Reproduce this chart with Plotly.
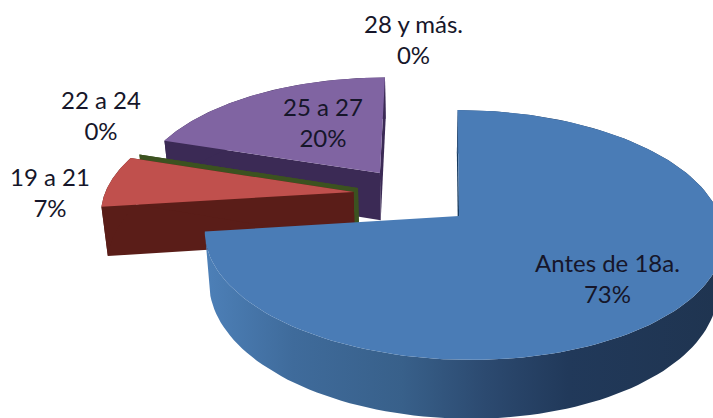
import numpy as np
import plotly.graph_objects as go

# Data
categories = ["Antes de 18a.", "19 a 21", "22 a 24", "25 a 27", "28 y más."]
values = [73, 7, 0, 20, 0]

# Styles and slice pull (ground-plane units)
top_colors = ["#4a7cb6", "#c0504d", "#4f6b2a", "#8064a2", "#4bacc6"]
wall_colors = ["#2c4a70", "#5a1d18", "#3c5220", "#3b2a55", "#2a6a7a"]
pull_u = [0.155, -0.272, -0.255, -0.168, -0.168]
pull_v = [0.0, 0.203, 0.237, 0.372, 0.372]
rim_u = [0.172, -0.272, -0.255, -0.168, -0.168]
rim_r = [1.0176, 1.015, 1.0, 1.0, 1.0]
label_xy = [(607, 278), (50, 192), (101, 115), (323, 122), (413, 39)]
blue_wall_scale = [
    [0.0, "#4d80b8"], [0.17, "#3f6b9b"], [0.38, "#38608a"],
    [0.54, "#2c4a70"], [0.70, "#21395a"], [1.0, "#1f3450"],
]

# Projection constants
X0, Y0, RX, RY, K = 420.0, 216.0, 252.0, 122.0, 0.152
DEPTH, SHRINK = 50.0, 0.02


def project(u, v, low=False):
    s = 1.0 / (1.0 + K * v)
    x = RX * u * s
    y = Y0 - RY * v * s
    if low:
        return X0 + x * (1 - SHRINK), y + DEPTH * s
    return X0 + x, y


def arc(i, a0, a1, low=False):
    t = np.radians(np.linspace(a0, a1, 140))
    return project(rim_u[i] + rim_r[i] * np.sin(t), pull_v[i] + np.cos(t), low)


def poly(xs, ys, color, **kw):
    return go.Scatter(
        x=list(xs), y=list(ys), mode="lines", fill="toself", fillcolor=color,
        line=dict(width=0, color=color), hoverinfo="skip", showlegend=False, **kw
    )


fig = go.Figure()

total = sum(values)
ends = np.cumsum(values) / total * 360.0
starts = np.concatenate([[0.0], ends[:-1]])

for i in [3, 2, 1, 0]:
    a0, a1 = starts[i], ends[i]
    apex = project(np.array([pull_u[i]]), np.array([pull_v[i]]))
    apex_low = project(np.array([pull_u[i]]), np.array([pull_v[i]]), True)

    # Flat wall on the leading radial edge (0 degrees for the big slice)
    ex, ey = arc(i, a0, a0)
    exl, eyl = arc(i, a0, a0, True)
    fig.add_trace(poly(
        [apex[0][0], ex[0], exl[0], apex_low[0][0]],
        [apex[1][0], ey[0], eyl[0], apex_low[1][0]],
        "#173a5e" if i == 0 else wall_colors[i],
    ))

    # Flat wall on the trailing radial edge
    ex, ey = arc(i, a1, a1)
    exl, eyl = arc(i, a1, a1, True)
    if i != 0:
        fig.add_trace(poly(
            [apex[0][0], ex[0], exl[0], apex_low[0][0]],
            [apex[1][0], ey[0], eyl[0], apex_low[1][0]],
            wall_colors[i],
        ))

    # Outer rim wall
    if a1 > a0:
        tx, ty = arc(i, a0, a1)
        bx, by = arc(i, a0, a1, True)
        rim = poly(np.concatenate([tx, bx[::-1]]), np.concatenate([ty, by[::-1]]), wall_colors[i])
        if i == 0:
            rim.update(fillgradient=dict(type="horizontal", colorscale=blue_wall_scale))
        fig.add_trace(rim)

        # Top face
        fig.add_trace(poly(
            np.concatenate([apex[0], tx, apex[0]]),
            np.concatenate([apex[1], ty, apex[1]]),
            top_colors[i],
        ))

for cat, val, (lx, ly) in zip(categories, values, label_xy):
    fig.add_annotation(
        x=lx, y=ly, text=f"{cat}<br>{val}%", showarrow=False,
        font=dict(family="Lato, Carlito, sans-serif", size=24, color="#16162a"),
        align="center", xanchor="center", yanchor="middle",
    )

fig.update_layout(
    width=713, height=418, margin=dict(l=0, r=0, t=0, b=0),
    paper_bgcolor="white", plot_bgcolor="white", showlegend=False,
    xaxis=dict(range=[0, 713], visible=False, fixedrange=True),
    yaxis=dict(range=[418, 0], visible=False, fixedrange=True),
)

fig.write_html("out.html", post_script="document.body.style.margin='0';",
               config={"displayModeBar": False})
